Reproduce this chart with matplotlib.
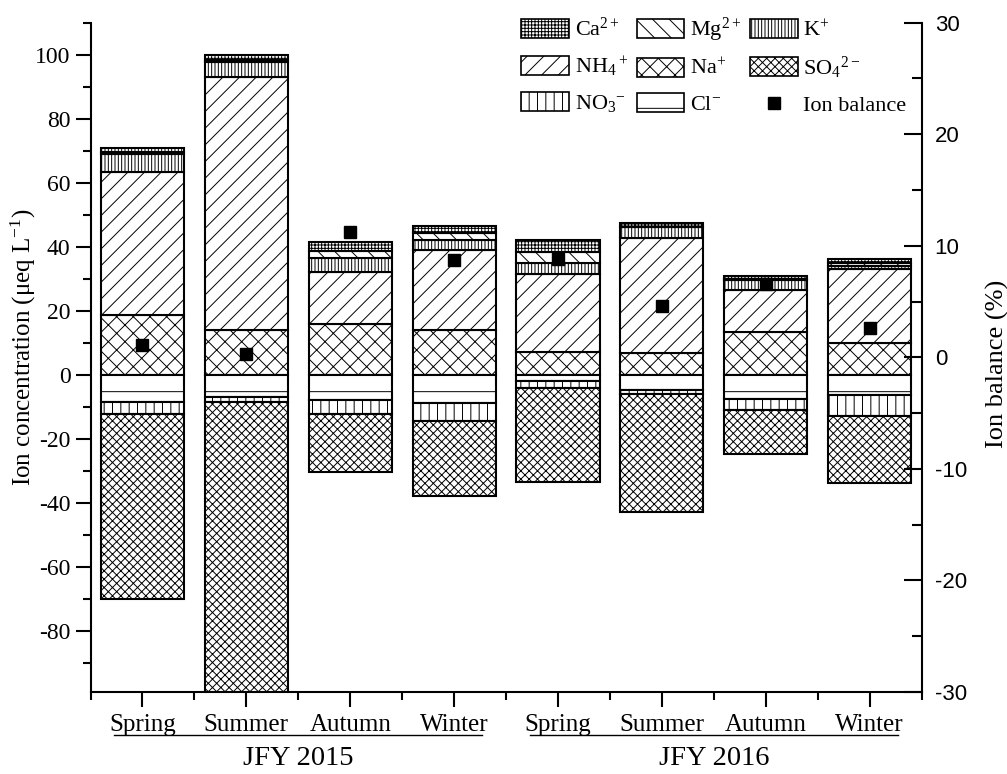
import numpy as np
import matplotlib
matplotlib.use("Agg")
import matplotlib.pyplot as plt
from matplotlib.patches import Patch
from matplotlib.lines import Line2D
from matplotlib.ticker import MultipleLocator, FixedLocator

plt.rcParams['font.family'] = ['Liberation Serif', 'DejaVu Serif']
plt.rcParams['mathtext.fontset'] = 'custom'
plt.rcParams['mathtext.rm'] = 'Liberation Serif'
plt.rcParams['mathtext.it'] = 'Liberation Serif:italic'
plt.rcParams['axes.unicode_minus'] = False
plt.rcParams['hatch.linewidth'] = 0.7
plt.rcParams['hatch.color'] = 'black'

# seasons / years
seasons = ['Spring', 'Summer', 'Autumn', 'Winter'] * 2
years = ['JFY 2015', 'JFY 2016']

# cations (ueq/L), stacked upwards from 0
na = [18.7, 14.0, 15.8, 14.0, 7.3, 6.9, 13.5, 9.9]
nh4 = [44.8, 78.9, 16.2, 25.1, 24.2, 36.0, 13.0, 23.3]
k = [5.5, 4.7, 4.6, 2.9, 3.5, 3.3, 3.1, 0.9]
mg = [0.6, 0.7, 2.0, 2.3, 3.4, 0.1, 0.3, 1.0]
ca = [1.3, 1.5, 3.0, 2.1, 3.6, 1.0, 0.9, 1.2]

# anions (ueq/L), stacked downwards from 0
cl = [8.6, 6.9, 7.8, 8.8, 1.8, 4.7, 7.4, 6.4]
no3 = [3.7, 1.4, 4.4, 5.5, 2.3, 1.2, 3.6, 6.3]
so4 = [57.6, 93.0, 18.2, 23.6, 29.3, 37.0, 13.6, 21.2]

# ion balance (%)
ion_balance = [1.1, 0.3, 11.2, 8.7, 8.8, 4.6, 6.6, 2.6]

# hatches
h_na, h_nh4, h_k, h_mg, h_ca = 'xx', '//', '|||||', '\\\\', '+++++'
h_cl, h_no3, h_so4 = '-', '||', 'xxxx'

x = np.arange(len(seasons))
w = 0.8

fig = plt.figure(figsize=(10.07, 7.74), dpi=100)
ax = fig.add_axes([0.0899, 0.106, 0.8252, 0.8647])
ax2 = ax.twinx()

bar_kw = dict(width=w, color='white', edgecolor='black', linewidth=1.5)

# positive part
bottom = np.zeros(len(x))
for vals, h in [(na, h_na), (nh4, h_nh4), (k, h_k), (mg, h_mg), (ca, h_ca)]:
    ax.bar(x, vals, bottom=bottom, hatch=h, **bar_kw)
    bottom = bottom + np.array(vals)

# negative part
bottom = np.zeros(len(x))
for vals, h in [(cl, h_cl), (no3, h_no3), (so4, h_so4)]:
    v = -np.array(vals)
    ax.bar(x, v, bottom=bottom, hatch=h, **bar_kw)
    bottom = bottom + v

ax2.plot(x, ion_balance, 's', color='black', markersize=9, zorder=5)

# axes limits and ticks
ax.set_xlim(-0.5, 7.5)
ax.set_ylim(-99, 110)
ax2.set_ylim(-30, 30)

ax.set_xticks(x)
ax.set_xticklabels(seasons, fontsize=18)
ax.xaxis.set_minor_locator(FixedLocator(np.arange(-0.5, 8, 1)))
ax.yaxis.set_major_locator(MultipleLocator(20))
ax.yaxis.set_minor_locator(MultipleLocator(10))
ax2.yaxis.set_major_locator(MultipleLocator(10))
ax2.yaxis.set_minor_locator(MultipleLocator(5))

ax.tick_params(axis='both', which='major', length=11, width=1.5)
ax.tick_params(axis='both', which='minor', length=6, width=1.5)
ax.tick_params(axis='y', labelsize=17)
ax.tick_params(axis='x', pad=5)
ax2.tick_params(axis='y', which='major', direction='in', length=13, width=1.5, labelsize=16, pad=9.5)
ax2.tick_params(axis='y', which='minor', direction='in', length=7, width=1.5)
for lab in ax2.get_yticklabels():
    lab.set_family('Liberation Sans')

for a in (ax, ax2):
    a.spines['top'].set_visible(False)
    for s in a.spines.values():
        s.set_linewidth(1.5)
ax.spines['right'].set_visible(False)
ax2.spines['left'].set_visible(False)
ax2.spines['bottom'].set_visible(False)

ax.set_ylabel('Ion concentration (μeq L$^{-1}$)', fontsize=18)
ax.yaxis.set_label_coords(-0.063, 0.515)
ax2.set_ylabel('Ion balance (%)', fontsize=19)
ax2.yaxis.set_label_coords(1.077, 0.49)

# year group labels
tr = ax.get_xaxis_transform()
for i, yr in enumerate(years):
    x0 = 4 * i - 0.27
    x1 = 4 * i + 3.27
    ax.plot([x0, x1], [-0.065, -0.065], color='black', lw=1, transform=tr, clip_on=False)
    ax.text(4 * i + 1.5, -0.1, yr, transform=tr, ha='center', va='center', fontsize=20.5)

# legend
def p(h):
    return Patch(facecolor='white', edgecolor='black', hatch=h, linewidth=1.2)

handles = [p(h_ca), p(h_nh4), p(h_no3),
           p(h_mg), p(h_na), p(h_cl),
           p(h_k), p(h_so4),
           Line2D([], [], marker='s', color='black', linestyle='none', markersize=9)]
labels = ['Ca$^{2+}$', 'NH$_4$$^+$', 'NO$_3$$^{-}$',
          'Mg$^{2+}$', 'Na$^{+}$', 'Cl$^{-}$',
          'K$^{+}$', 'SO$_4$$^{2-}$', 'Ion balance']
fig.legend(handles, labels, ncol=3, loc='upper left', bbox_to_anchor=(0.498, 1.005),
           frameon=False, fontsize=16, handlelength=2.15, handleheight=0.95,
           handletextpad=0.25, columnspacing=0.4, labelspacing=0.6)

fig.savefig('out.png', dpi=100)
